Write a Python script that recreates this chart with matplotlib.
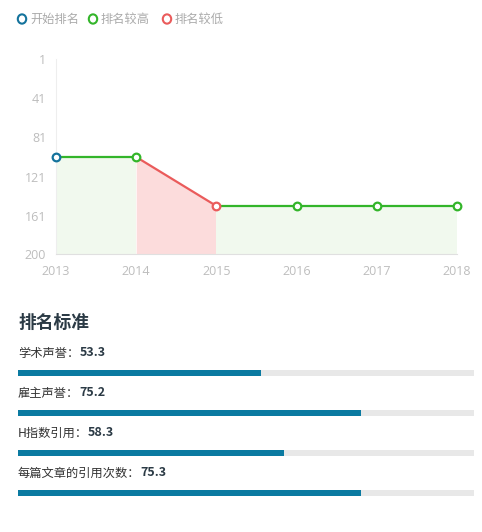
import matplotlib
matplotlib.use("Agg")
import matplotlib.pyplot as plt

plt.rcParams["font.family"] = ["Noto Sans CJK SC", "DejaVu Sans"]

# ── Data ────────────────────────────────────────────────
years = [2013, 2014, 2015, 2016, 2017, 2018]
ranks = [101, 101, 151, 151, 151, 151]
y_ticks = [1, 41, 81, 121, 161, 200]
legend_labels = ["开始排名", "排名较高", "排名较低"]

criteria = ["学术声誉", "雇主声誉", "H指数引用", "每篇文章的引用次数"]
scores = [53.3, 75.2, 58.3, 75.3]

BLUE = "#14739c"
GREEN = "#33b52a"
RED = "#ea5b5b"
FILL_GREEN = "#f1f9ee"
FILL_RED = "#fcdcdc"
BAR_BLUE = "#0b7aa1"
BAR_BG = "#e8e8e8"
TXT_GRAY = "#bdbdbd"

W, H = 482, 532
fig = plt.figure(figsize=(W / 100, H / 100), dpi=100)


def px_axes(x0, y0, x1, y1):
    return fig.add_axes([x0 / W, 1 - y1 / H, (x1 - x0) / W, (y1 - y0) / H])


# ── Line chart ──────────────────────────────────────────
ax = px_axes(56, 59, 457, 254)
ax.set_xlim(years[0], years[-1])
ax.set_ylim(200, 1)

for i in range(len(years) - 1):
    xs = years[i:i + 2]
    ys = ranks[i:i + 2]
    worse = ys[1] > ys[0]
    ax.fill_between(xs, ys, 200, color=FILL_RED if worse else FILL_GREEN, lw=0, zorder=1)
    ax.plot(xs, ys, color=RED if worse else GREEN, lw=1.6, zorder=2)

for i, (x, y) in enumerate(zip(years, ranks)):
    if i == 0:
        c = BLUE
    elif y > ranks[i - 1]:
        c = RED
    else:
        c = GREEN
    ax.plot(x, y, "o", ms=5.5, mfc="white", mec=c, mew=1.6, zorder=3, clip_on=False)

ax.set_yticks(y_ticks)
ax.set_xticks(years)
ax.tick_params(length=0, colors=TXT_GRAY, labelsize=9)
ax.tick_params(axis="y", pad=7)
ax.tick_params(axis="x", pad=8)
for lab in ax.get_xticklabels() + ax.get_yticklabels():
    lab.set_family(["Open Sans", "DejaVu Sans"])
for s in ["top", "right"]:
    ax.spines[s].set_visible(False)
ax.spines["left"].set_color("#eeeeee")
ax.spines["bottom"].set_color("#e0e0e0")
ax.set_facecolor("none")

# legend
leg_x = [22, 93, 167]
leg_c = [BLUE, GREEN, RED]
for lx, lc, lab in zip(leg_x, leg_c, legend_labels):
    fig.add_artist(plt.Circle((lx / W, 1 - 19 / H), 4.2 / W, transform=fig.transFigure,
                              fc="white", ec=lc, lw=1.5))
    fig.text((lx + 8) / W, 1 - 19 / H, lab, color="#aaaaaa", fontsize=8.8, va="center", ha="left")

# ── Criteria bars ───────────────────────────────────────
fig.text(18 / W, 1 - 323 / H, "排名标准", fontsize=12.8, fontweight="bold", color="#2b3a45",
         va="center", ha="left")

fig.canvas.draw()
for k, (name, val) in enumerate(zip(criteria, scores)):
    ty = 353 + 40 * k
    by = 370 + 40 * k
    t = fig.text(18 / W, 1 - ty / H, name + "：", fontsize=8.8, color="#333333",
                 va="center", ha="left")
    bb = t.get_window_extent(renderer=fig.canvas.get_renderer())
    fig.text(bb.x1 / W, 1 - ty / H, f"{val}", fontsize=9, fontweight="bold", color="#2b3a45",
             va="center", ha="left")
    bax = px_axes(18, by, 474, by + 6)
    bax.barh([0], [100], height=1, color=BAR_BG, lw=0)
    bax.barh([0], [val], height=1, color=BAR_BLUE, lw=0)
    bax.set_xlim(0, 100)
    bax.set_ylim(-0.5, 0.5)
    bax.axis("off")

fig.savefig("out.png", dpi=100)
